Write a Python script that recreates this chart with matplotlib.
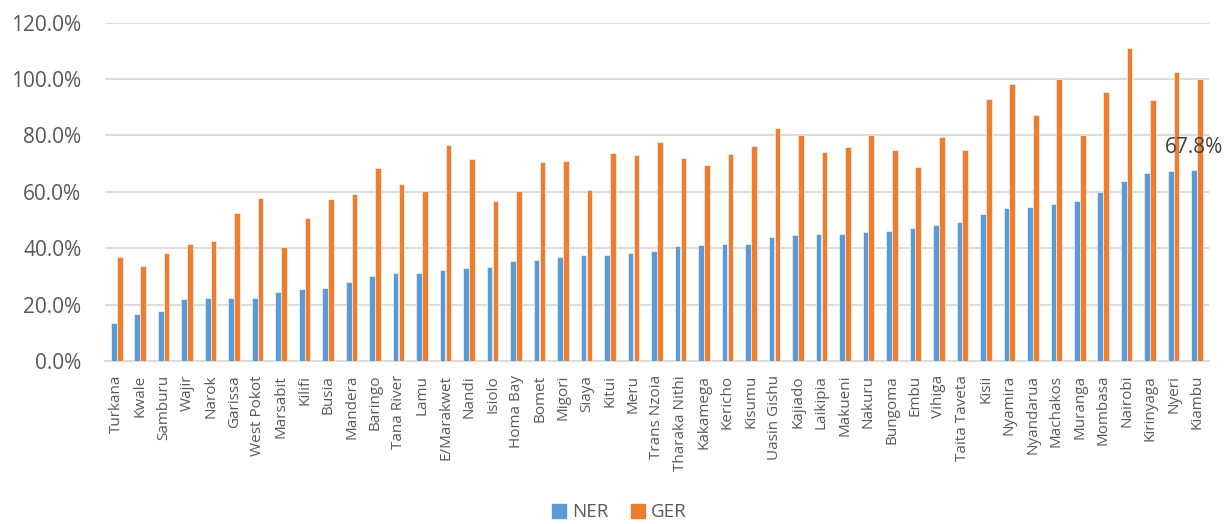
import numpy as np
import matplotlib
matplotlib.use("Agg")
import matplotlib.pyplot as plt
from matplotlib.patches import Patch

counties = ['Turkana', 'Kwale', 'Samburu', 'Wajir', 'Narok', 'Garissa', 'West Pokot',
            'Marsabit', 'Kilifi', 'Busia', 'Mandera', 'Baringo', 'Tana River', 'Lamu',
            'E/Marakwet', 'Nandi', 'Isiolo', 'Homa Bay', 'Bomet', 'Migori', 'Siaya',
            'Kitui', 'Meru', 'Trans Nzoia', 'Tharaka Nithi', 'Kakamega', 'Kericho',
            'Kisumu', 'Uasin Gishu', 'Kajiado', 'Laikipia', 'Makueni', 'Nakuru',
            'Bungoma', 'Embu', 'Vihiga', 'Taita Taveta', 'Kisii', 'Nyamira',
            'Nyandarua', 'Machakos', 'Muranga', 'Mombasa', 'Nairobi', 'Kirinyaga',
            'Nyeri', 'Kiambu']

ner = [13.5, 16.7, 17.7, 22.0, 22.2, 22.2, 22.2, 24.3, 25.5, 25.8, 28.0, 30.0, 31.1,
       31.3, 32.3, 33.1, 33.2, 35.3, 35.7, 36.8, 37.7, 37.7, 38.2, 38.9, 40.8, 41.3,
       41.4, 41.5, 43.9, 44.7, 45.0, 45.0, 45.7, 46.2, 47.3, 48.1, 49.2, 52.1, 54.3,
       54.7, 55.6, 56.7, 59.9, 63.9, 66.8, 67.3, 67.8]

ger = [36.8, 33.8, 38.3, 41.5, 42.4, 52.5, 57.8, 40.5, 50.7, 57.3, 59.3, 68.3, 62.6,
       60.3, 76.5, 71.6, 56.6, 60.3, 70.6, 70.9, 60.5, 73.6, 73.0, 77.5, 72.0, 69.6,
       73.3, 76.2, 82.7, 80.0, 74.1, 75.8, 80.0, 74.8, 68.7, 79.3, 74.7, 92.8, 98.3,
       87.2, 99.9, 80.0, 95.4, 111.0, 92.6, 102.4, 100.0]

blue = '#5B9BD5'
orange = '#ED7D31'
text_col = '#595959'

plt.rcParams['font.family'] = ['Open Sans', 'DejaVu Sans']

fig = plt.figure(figsize=(12.24, 5.24), dpi=100)
ax = fig.add_axes([0.0858, 0.311, 0.9019, 0.6459])

x = np.arange(len(counties))
w = 0.24
ax.bar(x - 0.125, ner, w, color=blue, edgecolor='white', linewidth=0.4, zorder=3)
ax.bar(x + 0.125, ger, w, color=orange, edgecolor='white', linewidth=0.4, zorder=3)

# label on the last NER bar
ax.annotate(f'{ner[-1]:.1f}%', (x[-1] - 0.125, ner[-1]), xytext=(0, 12),
            textcoords='offset points', ha='center', va='baseline',
            fontsize=15, color='#404040')

ax.set_xlim(-0.5, len(counties) - 0.5)
ax.set_ylim(0, 120)
ax.set_yticks(np.arange(0, 121, 20))
ax.set_yticklabels([f'{v:.1f}%' for v in range(0, 121, 20)])
ax.set_xticks(x)
ax.set_xticklabels(counties, rotation=90)

ax.grid(axis='y', color='#D9D9D9', linewidth=1.3, zorder=0)
for s in ['top', 'right', 'left']:
    ax.spines[s].set_visible(False)
ax.spines['bottom'].set_color('#D9D9D9')
ax.spines['bottom'].set_linewidth(1.3)
ax.tick_params(axis='y', length=0, pad=17, labelsize=15, labelcolor=text_col)
ax.tick_params(axis='x', length=0, pad=10, labelsize=11, labelcolor=text_col)

handles = [Patch(color=blue, label='NER'), Patch(color=orange, label='GER')]
fig.legend(handles=handles, loc='center', bbox_to_anchor=(0.506, 0.022), ncol=2,
           frameon=False, fontsize=13.5, labelcolor=text_col, handlelength=0.75,
           handleheight=0.75, handletextpad=0.3, columnspacing=1.2)

fig.savefig('out.png', dpi=100)
